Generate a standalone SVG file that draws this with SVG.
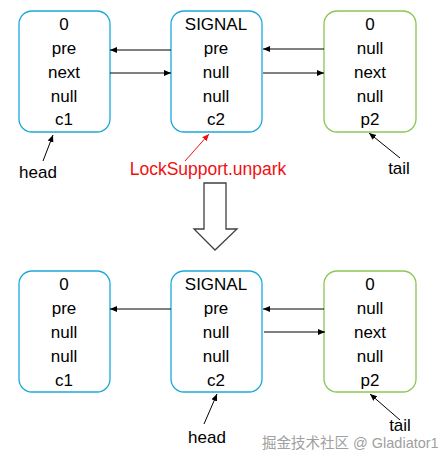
<svg xmlns="http://www.w3.org/2000/svg" width="446" height="460" viewBox="0 0 446 460">
<style>
.b{fill:#fff;stroke:#1ca9d9;stroke-width:1.3}
.g{fill:#fff;stroke:#8cc653;stroke-width:1.3}
text{font-family:"Liberation Sans",Arial,sans-serif;font-size:17px;fill:#000;text-anchor:middle}
.red{fill:#f01010;font-size:17.5px}
.wm{fill:#a0a0a0;font-size:14.5px;text-anchor:start;font-family:"Liberation Sans","Noto Sans CJK SC",sans-serif}
.c line{stroke:#000;stroke-width:1}
</style>
<defs>
<marker id="a" markerWidth="8" markerHeight="8" refX="7" refY="4" orient="auto" markerUnits="userSpaceOnUse"><path d="M0,1 L7,4 L0,7 z" fill="#000"/></marker>
<marker id="ar" markerWidth="8" markerHeight="8" refX="7" refY="4" orient="auto" markerUnits="userSpaceOnUse"><path d="M0,1 L7,4 L0,7 z" fill="#f01010"/></marker>
</defs>
<rect width="446" height="460" fill="#fff"/>
<g id="n1"><rect class="b" x="19" y="11" width="91" height="121" rx="13"/>
<text x="64" y="30">0</text><text x="64" y="54">pre</text><text x="64" y="78">next</text><text x="64" y="102">null</text><text x="64" y="125">c1</text></g>
<g id="n2"><rect class="b" x="171" y="11" width="91" height="121" rx="13"/>
<text x="216" y="30">SIGNAL</text><text x="216" y="54">pre</text><text x="216" y="78">null</text><text x="216" y="102">null</text><text x="216" y="125">c2</text></g>
<g id="n3"><rect class="g" x="324" y="11" width="92" height="121" rx="13"/>
<text x="370" y="30">0</text><text x="370" y="54">null</text><text x="370" y="78">next</text><text x="370" y="102">null</text><text x="370" y="125">p2</text></g>
<g id="n4"><rect class="b" x="19" y="271" width="91" height="121" rx="13"/>
<text x="64" y="290">0</text><text x="64" y="314">pre</text><text x="64" y="338">null</text><text x="64" y="362">null</text><text x="64" y="386">c1</text></g>
<g id="n5"><rect class="b" x="171" y="271" width="91" height="121" rx="13"/>
<text x="216" y="290">SIGNAL</text><text x="216" y="314">pre</text><text x="216" y="338">null</text><text x="216" y="362">null</text><text x="216" y="386">c2</text></g>
<g id="n6"><rect class="g" x="324" y="271" width="92" height="121" rx="13"/>
<text x="370" y="290">0</text><text x="370" y="314">null</text><text x="370" y="338">next</text><text x="370" y="362">null</text><text x="370" y="386">p2</text></g>
<g id="labels">
<text x="38" y="178">head</text>
<text x="399" y="174">tail</text>
<text class="red" x="208" y="175">LockSupport.unpark</text>
<text x="207" y="443">head</text>
<text x="400" y="431">tail</text>
<text class="wm" x="262" y="448">掘金技术社区 @ Gladiator1</text>
</g>
<g id="bigarrow"><path d="M204,183 L226,183 L226,229 L237,229 L215,250 L194,229 L204,229 Z" fill="#fff" stroke="#404040" stroke-width="1.3"/></g>
<g class="c" id="connectors">
<line x1="171" y1="50" x2="110" y2="50" marker-end="url(#a)"/>
<line x1="110" y1="73" x2="171" y2="73" marker-end="url(#a)"/>
<line x1="324" y1="49" x2="263" y2="49" marker-end="url(#a)"/>
<line x1="263" y1="73" x2="324" y2="73" marker-end="url(#a)"/>
<line x1="43" y1="161" x2="53" y2="135" marker-end="url(#a)"/>
<line x1="185" y1="161" x2="209" y2="134" style="stroke:#f01010" marker-end="url(#ar)"/>
<line x1="400" y1="158" x2="369" y2="133" marker-end="url(#a)"/>
<line x1="171" y1="309" x2="110" y2="309" marker-end="url(#a)"/>
<line x1="324" y1="309" x2="263" y2="309" marker-end="url(#a)"/>
<line x1="264" y1="332" x2="325" y2="332" marker-end="url(#a)"/>
<line x1="204" y1="424" x2="217" y2="394" marker-end="url(#a)"/>
<line x1="400" y1="420" x2="370" y2="394" marker-end="url(#a)"/>
</g>
</svg>
